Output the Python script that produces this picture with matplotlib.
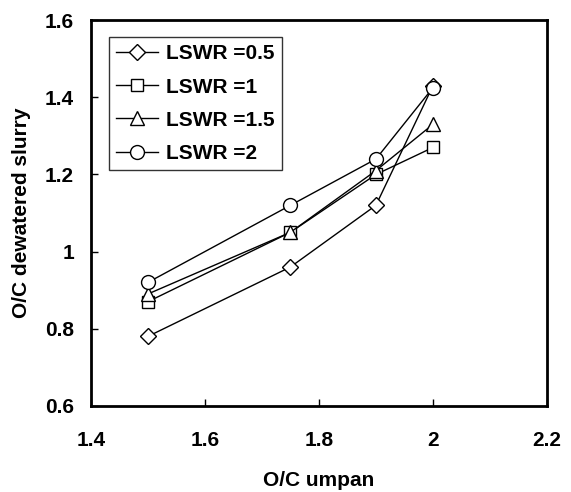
import matplotlib

matplotlib.use("Agg")
import matplotlib.pyplot as plt

plt.rcParams["font.family"] = ["Liberation Sans", "DejaVu Sans"]
plt.rcParams["font.weight"] = "bold"

x_umpan = [1.5, 1.75, 1.9, 2.0]
lswr_05 = [0.78, 0.96, 1.12, 1.43]
lswr_1 = [0.87, 1.05, 1.20, 1.27]
lswr_15 = [0.89, 1.05, 1.21, 1.33]
lswr_2 = [0.92, 1.12, 1.24, 1.425]

series = [
    ("LSWR =0.5", lswr_05, "D", 8),
    ("LSWR =1", lswr_1, "s", 9),
    ("LSWR =1.5", lswr_15, "^", 10),
    ("LSWR =2", lswr_2, "o", 10),
]

fig = plt.figure(figsize=(5.71, 4.92), dpi=100)
ax = fig.add_axes([0.159, 0.175, 0.799, 0.784])

for label, ys, marker, ms in series:
    ax.plot(x_umpan, ys, color="black", lw=1.0, marker=marker, ms=ms,
            mfc="white", mec="black", mew=1.0, label=label)

ax.set_xlim(1.4, 2.2)
ax.set_ylim(0.6, 1.6)
ax.set_xticks([1.4, 1.6, 1.8, 2.0, 2.2])
ax.set_xticklabels(["1.4", "1.6", "1.8", "2", "2.2"])
ax.set_yticks([0.6, 0.8, 1.0, 1.2, 1.4, 1.6])
ax.set_yticklabels(["0.6", "0.8", "1", "1.2", "1.4", "1.6"])
ax.tick_params(direction="in", length=5, width=1, labelsize=15)
ax.tick_params(axis="x", pad=18)
ax.tick_params(axis="y", pad=12)
for sp in ax.spines.values():
    sp.set_linewidth(2)

ax.set_xlabel("O/C umpan", fontsize=15, fontweight="bold", labelpad=15)
ax.set_ylabel("O/C dewatered slurry", fontsize=15, fontweight="bold", labelpad=10)

leg = ax.legend(loc="upper left", bbox_to_anchor=(0.040, 0.956), fontsize=15,
                frameon=True, fancybox=False, edgecolor="black",
                handlelength=2.0, handletextpad=0.38, borderpad=0.35,
                borderaxespad=0, labelspacing=0.68)
leg.get_frame().set_linewidth(1.0)

fig.savefig("out.png", dpi=100)
